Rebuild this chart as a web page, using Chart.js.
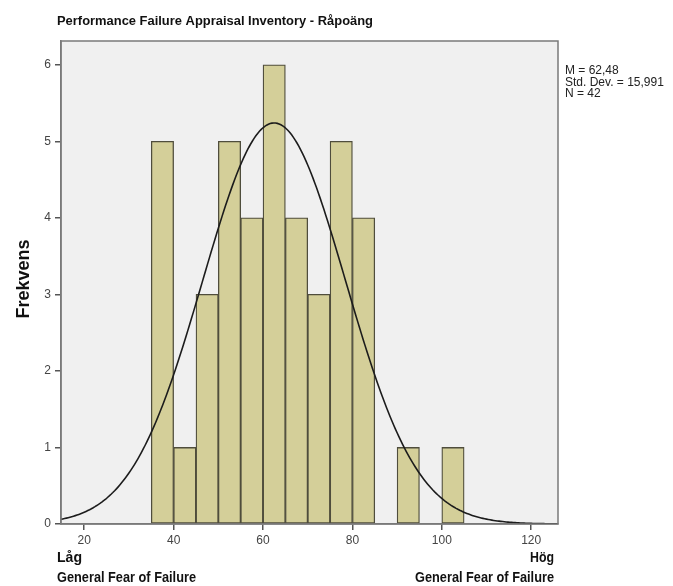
<!DOCTYPE html>
<html>
<head>
<meta charset="utf-8">
<script src="https://cdn.jsdelivr.net/npm/chart.js@4/dist/chart.umd.min.js"></script>
<style>
  html, body { margin: 0; padding: 0; background: #ffffff; }
  #wrap { width: 673px; height: 586px; }
</style>
</head>
<body>
<div id="wrap"><canvas id="c" width="673" height="586"></canvas></div>
<script>
// ---- Data ----
const binStarts = [35, 40, 45, 50, 55, 60, 65, 70, 75, 80, 90, 100];
const binCounts = [5, 1, 3, 5, 4, 6, 4, 3, 5, 4, 1, 1];
const binWidth = 5;
const xTicks = [20, 40, 60, 80, 100, 120];
const yTicks = [0, 1, 2, 3, 4, 5, 6];
const statMean = 62.48;
const statSD = 15.991;
const statN = 42;
const statLines = ["M = 62,48", "Std. Dev. = 15,991", "N = 42"];
const titleText = "Performance Failure Appraisal Inventory - Råpoäng";
const yTitle = "Frekvens";
const lowLabel = ["Låg", "General Fear of Failure"];
const highLabel = ["Hög", "General Fear of Failure"];
const xMin = 14.8, xMax = 126.0, yMax = 6.31;

// bars as {x: bin centre, y: count}
const barData = binStarts.map((s, i) => ({ x: s + binWidth / 2, y: binCounts[i] }));

// fitted normal curve from the displayed M, SD and N
const curveData = [];
for (let x = xMin; x <= xMax + 1e-9; x += 0.4) {
  const z = (x - statMean) / statSD;
  curveData.push({ x: x, y: statN * binWidth / (statSD * Math.sqrt(2 * Math.PI)) * Math.exp(-0.5 * z * z) });
}

function fitText(ctx, str, x, y, font, targetW, align) {
  ctx.save();
  ctx.font = font;
  const w = ctx.measureText(str).width;
  const sx = targetW / w;
  ctx.translate(x, y);
  ctx.scale(sx, 1);
  ctx.textAlign = align;
  ctx.textBaseline = 'alphabetic';
  ctx.fillText(str, 0, 0);
  ctx.restore();
}

const decor = {
  id: 'decor',
  beforeDraw(chart) {
    const { ctx, chartArea: a } = chart;
    ctx.save();
    ctx.fillStyle = '#f0f0f0';
    ctx.fillRect(a.left, a.top, a.right - a.left, a.bottom - a.top);
    ctx.restore();
  },
  afterDraw(chart) {
    const { ctx, chartArea: a } = chart;
    ctx.save();
    ctx.strokeStyle = '#7a7a7a';
    ctx.lineWidth = 1.5;
    ctx.strokeRect(a.left, a.top, a.right - a.left, a.bottom - a.top);

    ctx.fillStyle = '#111';
    fitText(ctx, titleText, 57, 25, 'bold 13px "Liberation Sans Narrow", "Liberation Sans", Arial', 316, 'left');

    // y title
    ctx.save();
    ctx.translate(24, 279);
    ctx.rotate(-Math.PI / 2);
    ctx.font = 'bold 18px "Liberation Sans", Arial';
    ctx.textAlign = 'center';
    ctx.textBaseline = 'middle';
    ctx.fillText(yTitle, 0, 0);
    ctx.restore();

    // low / high labels
    fitText(ctx, lowLabel[0], 57, 562, 'bold 14px "Liberation Sans Narrow", "Liberation Sans", Arial', 25, 'left');
    fitText(ctx, lowLabel[1], 57, 582, 'bold 14px "Liberation Sans Narrow", "Liberation Sans", Arial', 139, 'left');
    fitText(ctx, highLabel[0], 554, 562, 'bold 14px "Liberation Sans Narrow", "Liberation Sans", Arial', 24, 'right');
    fitText(ctx, highLabel[1], 554, 582, 'bold 14px "Liberation Sans Narrow", "Liberation Sans", Arial', 139, 'right');

    // stats
    ctx.fillStyle = '#222';
    ctx.font = '12px "Liberation Sans", Arial';
    ctx.textAlign = 'left';
    ctx.textBaseline = 'alphabetic';
    statLines.forEach((s, i) => ctx.fillText(s, 565, 74 + i * 11.5));
    ctx.restore();
  }
};

new Chart(document.getElementById('c'), {
  type: 'bar',
  data: {
    datasets: [
      {
        type: 'line',
        data: curveData,
        borderColor: '#1c1c1c',
        borderWidth: 1.6,
        pointRadius: 0,
        tension: 0,
        fill: false,
        order: 0
      },
      {
        type: 'bar',
        data: barData,
        backgroundColor: '#d4cf99',
        borderColor: '#4f4d3c',
        borderWidth: 1.3,
        borderSkipped: false,
        barPercentage: 1.0,
        categoryPercentage: 1.0,
        order: 1
      }
    ]
  },
  options: {
    responsive: false,
    animation: false,
    devicePixelRatio: 1,
    layout: { padding: { left: 0, right: 115, top: 41, bottom: 0 } },
    plugins: { legend: { display: false }, tooltip: { enabled: false }, title: { display: false } },
    scales: {
      x: {
        type: 'linear',
        offset: false,
        min: xMin,
        max: xMax,
        afterBuildTicks(s) { s.ticks = xTicks.map(v => ({ value: v })); },
        afterFit(s) { s.height = 62; },
        grid: { offset: false, drawOnChartArea: false, drawTicks: true, tickLength: 6, color: '#555', lineWidth: 1.5 },
        border: { display: true, color: '#7a7a7a', width: 1.5 },
        ticks: { color: '#444', font: { family: '"Liberation Sans", Arial', size: 12 }, padding: 3, maxRotation: 0, autoSkip: false }
      },
      y: {
        min: 0,
        max: yMax,
        afterBuildTicks(s) { s.ticks = yTicks.map(v => ({ value: v })); },
        afterFit(s) { s.width = 61; },
        grid: { drawOnChartArea: false, drawTicks: true, tickLength: 6, color: '#555', lineWidth: 1.5 },
        border: { display: true, color: '#7a7a7a', width: 1.5 },
        ticks: { color: '#444', font: { family: '"Liberation Sans", Arial', size: 12 }, padding: 4, autoSkip: false }
      }
    }
  },
  plugins: [decor]
});
</script>
</body>
</html>
